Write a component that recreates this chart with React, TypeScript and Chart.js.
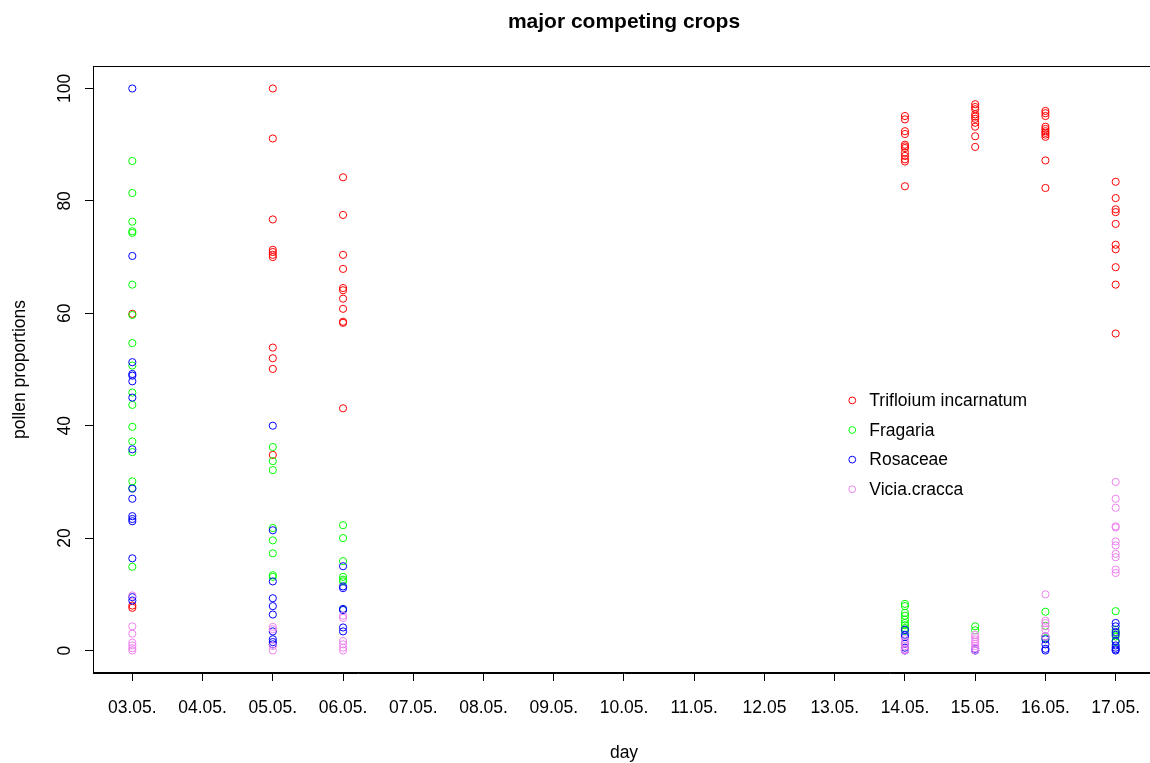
import React, { useEffect, useRef } from 'react';
import { Chart, registerables } from 'chart.js';

Chart.register(...registerables);

const FONT = "'Liberation Sans', Arial, Helvetica, sans-serif";

// Sampling days (x axis categories, placed at positions 1..15)
const dayLabels = [
  '03.05.', '04.05.', '05.05.', '06.05.', '07.05.', '08.05.', '09.05.', '10.05.',
  '11.05.', '12.05', '13.05.', '14.05.', '15.05.', '16.05.', '17.05.',
];

const yTickValues = [0, 20, 40, 60, 80, 100];

// Pollen proportions (%) per sample, grouped by day
const trifoliumIncarnatum: number[][] = [
  [59.9, 8.0, 7.6],
  [],
  [100, 91.1, 76.7, 71.3, 70.9, 70.4, 70.0, 53.9, 52.0, 50.1, 34.8],
  [84.2, 77.5, 70.4, 67.9, 64.5, 64.1, 62.6, 60.8, 58.5, 58.3, 43.1],
  [], [], [], [], [], [], [],
  [95.1, 94.5, 92.4, 91.9, 90.0, 89.7, 89.4, 88.6, 88.0, 87.4, 87.0, 82.6],
  [97.2, 96.7, 96.3, 95.4, 95.0, 94.6, 93.9, 93.2, 91.5, 89.6],
  [96.0, 95.6, 95.1, 93.2, 92.8, 92.4, 92.1, 91.8, 91.4, 87.2, 82.3],
  [83.4, 80.5, 78.5, 78.0, 75.9, 72.2, 71.4, 68.2, 65.1, 56.4],
];

const fragaria: number[][] = [
  [87.1, 81.4, 76.3, 74.6, 74.3, 65.1, 59.7, 54.7, 50.7, 45.9, 43.7, 39.8, 37.2, 35.3, 30.1, 28.9, 14.9],
  [],
  [36.2, 33.7, 32.1, 21.8, 19.6, 17.3, 13.4, 13.1],
  [22.3, 20.0, 15.9, 13.1, 12.6, 12.3, 7.3],
  [], [], [], [], [], [], [],
  [8.3, 7.9, 6.7, 6.2, 5.5, 4.9, 4.5, 4.0, 3.5],
  [4.3, 3.6],
  [6.9, 4.4, 2.2],
  [7.0, 3.7, 3.1, 2.5, 1.5],
];

const rosaceae: number[][] = [
  [100, 70.2, 51.3, 49.2, 48.9, 47.9, 45.0, 35.8, 28.8, 27.0, 23.9, 23.4, 23.0, 16.4, 9.5, 8.9],
  [],
  [40.0, 21.4, 12.3, 9.3, 7.9, 6.4, 3.4, 2.0, 1.5, 1.1],
  [15.0, 11.4, 11.1, 7.4, 7.2, 4.1, 3.4],
  [], [], [], [], [], [], [],
  [3.7, 2.8, 2.4, 1.2, 0.5, 0],
  [0.3, 0],
  [2.5, 2.0, 1.1, 0.3, 0],
  [4.9, 4.3, 3.3, 2.8, 1.7, 0.9, 0.5, 0.2, 0],
];

const viciaCracca: number[][] = [
  [9.8, 4.3, 3.0, 1.4, 0.9, 0.4, 0],
  [],
  [4.2, 3.8, 0.8, 0],
  [6.2, 5.8, 1.7, 1.1, 0.5, 0],
  [], [], [], [], [], [], [],
  [2.0, 1.4, 0.8, 0.2, 0],
  [2.8, 2.4, 2.0, 1.6, 1.2, 0.8, 0.4, 0],
  [10.0, 5.3, 4.9, 4.3, 3.7, 2.5],
  [30.0, 27.0, 25.4, 22.1, 21.9, 19.4, 18.7, 17.2, 16.6, 14.4, 13.8],
];

const seriesNames = ['Trifloium incarnatum', 'Fragaria', 'Rosaceae', 'Vicia.cracca'];
const seriesColors = ['#FF0000', '#00FF00', '#0000FF', '#EE82EE'];
const seriesValues = [trifoliumIncarnatum, fragaria, rosaceae, viciaCracca];

function toPoints(byDay: number[][]) {
  return byDay.flatMap((vals, i) => vals.map((v) => ({ x: i + 1, y: v })));
}

// Draws the plot frame, rotated y tick labels and the borderless legend
const framePlugin = {
  id: 'rFrame',
  afterDraw(chart: any) {
    const { ctx, chartArea: a, scales } = chart;
    ctx.save();
    ctx.strokeStyle = '#000';
    ctx.lineWidth = 1;
    ctx.strokeRect(
      Math.round(a.left) + 0.5,
      Math.round(a.top) + 0.5,
      Math.round(a.right - a.left) - 1,
      Math.round(a.bottom - a.top) - 1
    );

    const ys = scales.y;
    ctx.fillStyle = '#000';
    ctx.font = `17.5px ${FONT}`;
    ctx.textAlign = 'center';
    ctx.textBaseline = 'alphabetic';
    const labelX = ys.right - 23;
    ys.ticks.forEach((t: any) => {
      const py = ys.getPixelForValue(t.value);
      ctx.save();
      ctx.translate(labelX, py);
      ctx.rotate(-Math.PI / 2);
      ctx.fillText(String(t.value), 0, 0);
      ctx.restore();
    });

    // legend
    const xs = scales.x;
    const markerX = xs.getPixelForValue(11.25);
    const firstY = ys.getPixelForValue(44.5);
    const rowGap = 29.6;
    ctx.textAlign = 'left';
    ctx.textBaseline = 'middle';
    chart.data.datasets.forEach((ds: any, i: number) => {
      const cy = firstY + i * rowGap;
      ctx.beginPath();
      ctx.arc(markerX, cy, 3.4, 0, Math.PI * 2);
      ctx.strokeStyle = ds.borderColor;
      ctx.lineWidth = 1;
      ctx.stroke();
      ctx.fillStyle = '#000';
      ctx.fillText(ds.label, markerX + 17, cy + 1);
    });
    ctx.restore();
  },
};

export default function App() {
  const canvasRef = useRef<HTMLCanvasElement | null>(null);

  useEffect(() => {
    const canvas = canvasRef.current;
    if (!canvas) return;

    const datasets = seriesNames.map((name, i) => ({
      label: name,
      data: toPoints(seriesValues[i]),
      borderColor: seriesColors[i],
      backgroundColor: 'rgba(0,0,0,0)',
      pointStyle: 'circle',
      pointRadius: 3.6,
      pointHoverRadius: 3.6,
      pointBorderWidth: 1,
      showLine: false,
      order: seriesNames.length - i,
    }));

    const chart = new Chart(canvas, {
      type: 'scatter',
      data: { datasets },
      plugins: [framePlugin],
      options: {
        responsive: false,
        animation: false,
        devicePixelRatio: 1,
        layout: { padding: { left: 0, right: 5, top: 0, bottom: 0 } },
        plugins: {
          legend: { display: false },
          tooltip: { enabled: false },
          title: {
            display: true,
            text: 'major competing crops',
            color: '#000',
            fullSize: false,
            font: { family: FONT, size: 21, weight: 'bold' },
            padding: { top: 9.5, bottom: 31.3 },
          },
        },
        scales: {
          x: {
            type: 'linear',
            position: 'bottom',
            min: 0.44,
            max: 15.56,
            afterBuildTicks: (scale: any) => {
              scale.ticks = dayLabels.map((_, i) => ({ value: i + 1 }));
            },
            afterFit: (scale: any) => {
              scale.height = 90;
              scale.paddingLeft = 0;
              scale.paddingRight = 0;
            },
            ticks: {
              autoSkip: false,
              maxRotation: 0,
              minRotation: 0,
              color: '#000',
              padding: 17,
              font: { family: FONT, size: 17.5 },
              callback: (v: any) => dayLabels[Math.round(Number(v)) - 1] ?? '',
            },
            grid: {
              drawOnChartArea: false,
              drawTicks: true,
              tickLength: 8,
              color: '#000',
            },
            border: { display: true, color: '#000' },
            title: {
              display: true,
              text: 'day',
              color: '#000',
              font: { family: FONT, size: 17.5 },
              padding: { top: 0, bottom: -1 },
            },
          },
          y: {
            type: 'linear',
            position: 'left',
            min: -4,
            max: 104,
            afterBuildTicks: (scale: any) => {
              scale.ticks = yTickValues.map((v) => ({ value: v }));
            },
            afterFit: (scale: any) => {
              scale.width = 93;
              scale.paddingTop = 0;
              scale.paddingBottom = 0;
            },
            ticks: { display: false },
            grid: {
              drawOnChartArea: false,
              drawTicks: true,
              tickLength: 8,
              color: '#000',
            },
            border: { display: true, color: '#000' },
            title: {
              display: true,
              text: 'pollen proportions',
              color: '#000',
              font: { family: FONT, size: 17.5 },
              padding: { top: 9.5, bottom: 0 },
            },
          },
        },
      },
    } as any);

    return () => chart.destroy();
  }, []);

  // The plotting region runs a few pixels past the right edge of the view
  return (
    <div
      style={{
        position: 'fixed',
        left: 0,
        top: 0,
        width: 1150,
        height: 763,
        overflow: 'hidden',
        background: '#fff',
      }}
    >
      <canvas ref={canvasRef} width={1160} height={763} style={{ display: 'block' }} />
    </div>
  );
}
